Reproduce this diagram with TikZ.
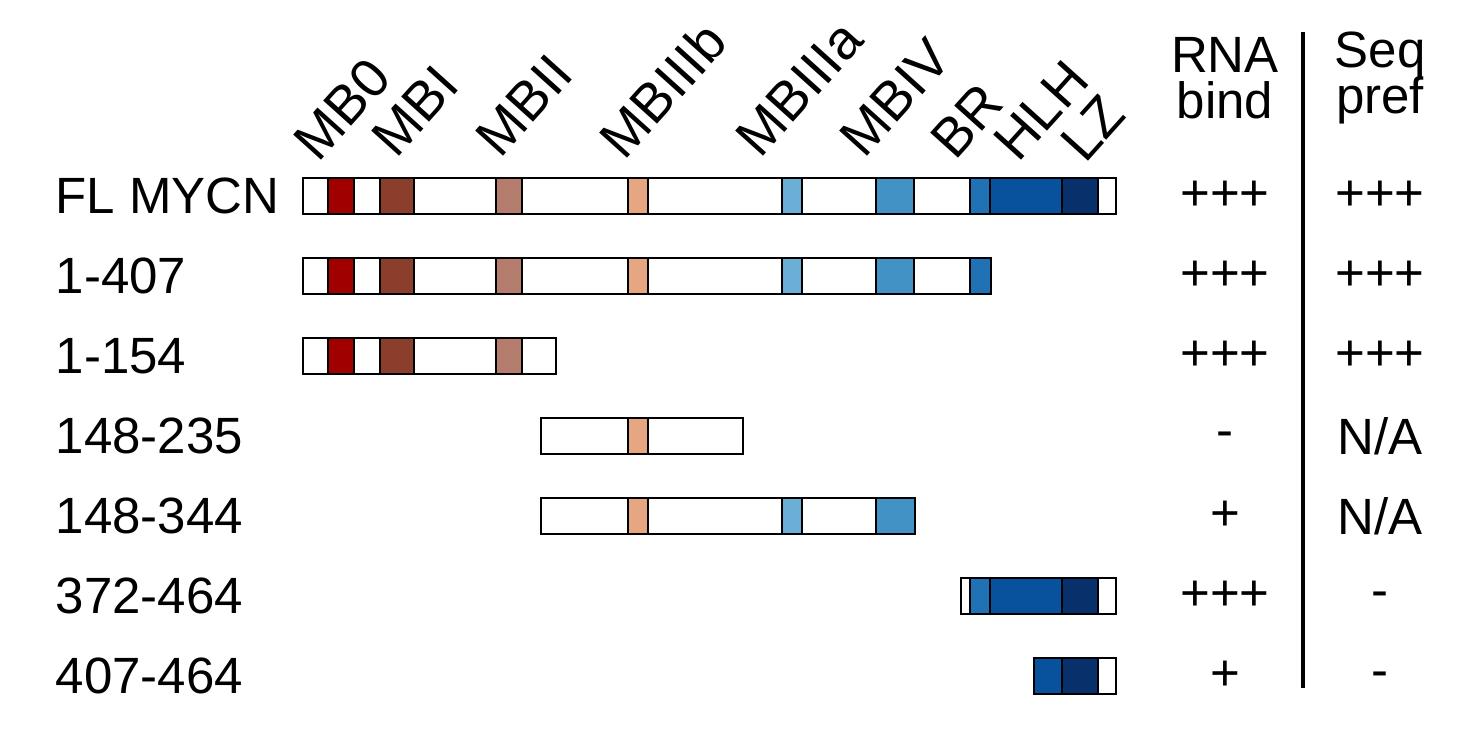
\documentclass[tikz,border=0pt]{standalone}
\usepackage{fontspec}
\setmainfont{Liberation Sans}
\definecolor{mbzero}{HTML}{A00000}
\definecolor{mbone}{HTML}{8B3E2C}
\definecolor{mbtwo}{HTML}{B57D6D}
\definecolor{mbthreeb}{HTML}{E6A682}
\definecolor{mbthreea}{HTML}{6BAED6}
\definecolor{mbfour}{HTML}{4292C6}
\definecolor{brcol}{HTML}{2171B5}
\definecolor{hlhcol}{HTML}{08519C}
\definecolor{lzcol}{HTML}{08306B}
\tikzset{
  lbl/.style={font=\fontsize{14.5}{16}\selectfont, inner sep=0pt},
  dom/.style={rotate=48, anchor=base west, font=\fontsize{15.5}{16}\selectfont, inner sep=0pt},
  seg/.style={draw=black, line width=0.5pt},
}
\begin{document}
\begin{tikzpicture}[x=0.01cm, y=-0.01cm]
  \useasboundingbox (0,0) rectangle (1484,743);
  % domain labels
  \node[dom] (lab_mb0) at (318,164) {MB0};
  \node[dom] (lab_mb1) at (396,160) {MBI};
  \node[dom] (lab_mb2) at (500,160) {MBII};
  \node[dom] (lab_mb3b) at (624,162) {MBIIIb};
  \node[dom] (lab_mb3a) at (760,160) {MBIIIa};
  \node[dom] (lab_mb4) at (864,160) {MBIV};
  \node[dom] (lab_br) at (955,162) {BR};
  \node[dom] (lab_hlh) at (1018,164) {HLH};
  \node[dom] (lab_lz) at (1085,165) {LZ};
  % header
  \node[lbl, align=center] (hdr_rna) at (1225,78) {RNA\\[-3pt]bind};
  \node[lbl, align=center] (hdr_seq) at (1380,78) {Seq\\[-3pt]pref};
  \draw[line width=1.2pt] (1303,32) -- (1303,688);
  % FL MYCN
  \node[lbl, anchor=west] (row_fl) at (55,196) {FL MYCN};
  \draw[seg] (303,178) rectangle (1116,214);
  \draw[seg, fill=mbzero] (328,178) rectangle (354,214);
  \draw[seg, fill=mbone] (380,178) rectangle (414,214);
  \draw[seg, fill=mbtwo] (496,178) rectangle (522,214);
  \draw[seg, fill=mbthreeb] (628,178) rectangle (648,214);
  \draw[seg, fill=mbthreea] (782,178) rectangle (802,214);
  \draw[seg, fill=mbfour] (876,178) rectangle (914,214);
  \draw[seg, fill=brcol] (970,178) rectangle (990,214);
  \draw[seg, fill=hlhcol] (990,178) rectangle (1062,214);
  \draw[seg, fill=lzcol] (1062,178) rectangle (1098,214);
  \node[lbl] (rna_fl) at (1225,196) {+++};
  \node[lbl] (seq_fl) at (1380,196) {+++};
  % 1-407
  \node[lbl, anchor=west] (row_407) at (55,276) {1-407};
  \draw[seg] (303,258) rectangle (991,294);
  \draw[seg, fill=mbzero] (328,258) rectangle (354,294);
  \draw[seg, fill=mbone] (380,258) rectangle (414,294);
  \draw[seg, fill=mbtwo] (496,258) rectangle (522,294);
  \draw[seg, fill=mbthreeb] (628,258) rectangle (648,294);
  \draw[seg, fill=mbthreea] (782,258) rectangle (802,294);
  \draw[seg, fill=mbfour] (876,258) rectangle (914,294);
  \draw[seg, fill=brcol] (970,258) rectangle (991,294);
  \node[lbl] (rna_407) at (1225,276) {+++};
  \node[lbl] (seq_407) at (1380,276) {+++};
  % 1-154
  \node[lbl, anchor=west] (row_154) at (55,356) {1-154};
  \draw[seg] (303,338) rectangle (556,374);
  \draw[seg, fill=mbzero] (328,338) rectangle (354,374);
  \draw[seg, fill=mbone] (380,338) rectangle (414,374);
  \draw[seg, fill=mbtwo] (496,338) rectangle (522,374);
  \node[lbl] (rna_154) at (1225,356) {+++};
  \node[lbl] (seq_154) at (1380,356) {+++};
  % 148-235
  \node[lbl, anchor=west] (row_235) at (55,436) {148-235};
  \draw[seg] (541,418) rectangle (743,454);
  \draw[seg, fill=mbthreeb] (628,418) rectangle (648,454);
  \node[lbl] (rna_235) at (1225,440) {-};
  \node[lbl] (seq_235) at (1380,436) {N/A};
  % 148-344
  \node[lbl, anchor=west] (row_344) at (55,516) {148-344};
  \draw[seg] (541,498) rectangle (915,534);
  \draw[seg, fill=mbthreeb] (628,498) rectangle (648,534);
  \draw[seg, fill=mbthreea] (782,498) rectangle (802,534);
  \draw[seg, fill=mbfour] (876,498) rectangle (915,534);
  \node[lbl] (rna_344) at (1225,516) {+};
  \node[lbl] (seq_344) at (1380,516) {N/A};
  % 372-464
  \node[lbl, anchor=west] (row_372) at (55,596) {372-464};
  \draw[seg] (961,578) rectangle (1116,614);
  \draw[seg, fill=brcol] (970,578) rectangle (990,614);
  \draw[seg, fill=hlhcol] (990,578) rectangle (1062,614);
  \draw[seg, fill=lzcol] (1062,578) rectangle (1098,614);
  \node[lbl] (rna_372) at (1225,596) {+++};
  \node[lbl] (seq_372) at (1380,600) {-};
  % 407-464
  \node[lbl, anchor=west] (row_464) at (55,676) {407-464};
  \draw[seg] (1034,658) rectangle (1116,694);
  \draw[seg, fill=hlhcol] (1034,658) rectangle (1062,694);
  \draw[seg, fill=lzcol] (1062,658) rectangle (1098,694);
  \node[lbl] (rna_464) at (1225,676) {+};
  \node[lbl] (seq_464) at (1380,680) {-};
\end{tikzpicture}
\end{document}
